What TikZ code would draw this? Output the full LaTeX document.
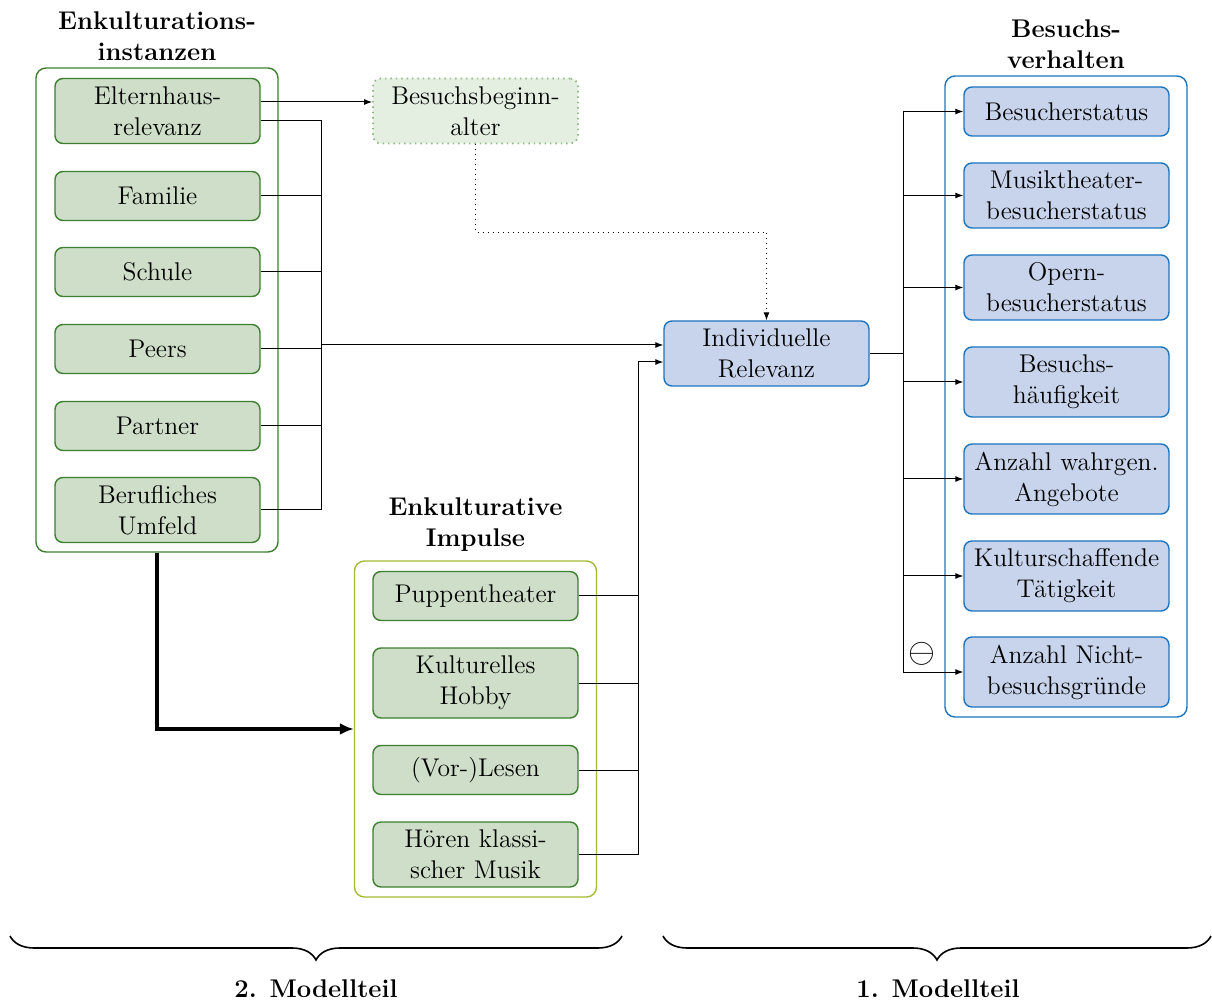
\documentclass[tikz,border=0pt]{standalone}
\usetikzlibrary{decorations.pathreplacing,arrows.meta,calc}
\definecolor{gborder}{HTML}{3C7F2E}
\definecolor{gfill}{HTML}{CEDEC8}
\definecolor{gfilllight}{HTML}{E4EEE1}
\definecolor{gdot}{HTML}{8DB87F}
\definecolor{bborder}{HTML}{1C74BF}
\definecolor{bfill}{HTML}{C8D4EC}
\definecolor{ygborder}{HTML}{A3BB35}
\begin{document}
\begin{tikzpicture}[x=0.5pt,y=-0.5pt,
  font=\fontsize{12.8}{15.5}\selectfont,
  basebox/.style={rounded corners=4pt, line width=0.7pt, minimum width=102.5pt, text width=100pt, align=center, inner sep=1pt,
    execute at begin node={\setlength{\baselineskip}{15.5pt}}},
  gbox/.style={basebox, draw=gborder, fill=gfill},
  bbox/.style={basebox, draw=bborder, fill=bfill},
  onel/.style={minimum height=24.5pt},
  twol/.style={minimum height=32.5pt},
  twolt/.style={minimum height=35pt},
  outer/.style={rounded corners=5pt, line width=0.7pt, minimum width=121pt, inner sep=0pt},
  title/.style={font=\fontsize{12.8}{15.5}\selectfont\bfseries, align=center,
    execute at begin node={\setlength{\baselineskip}{15.5pt}}},
  conn/.style={line width=0.5pt},
  arr/.style={line width=0.5pt, -{Latex[length=4pt,width=3pt]}},
]
\useasboundingbox (0,0) rectangle (1212,1000);

% outer boxes
\node[outer, draw=gborder, minimum height=242pt] (enk) at (157,310) {};
\node[outer, draw=ygborder, minimum height=168pt] (imp) at (475.5,729) {};
\node[outer, draw=bborder, minimum height=320.5pt] (bv) at (1066,396.5) {};

% titles
\node[title] (tenk) at (157,36) {Enkulturations-\\instanzen};
\node[title] (timp) at (475.5,525) {Enkulturative\\Impulse};
\node[title] (tbv) at (1066,44) {Besuchs-\\verhalten};

% left boxes
\node[gbox,twol] (elt) at (157.5,111) {Elternhaus-\\relevanz};
\node[gbox,onel] (fam) at (157.5,196) {Familie};
\node[gbox,onel] (sch) at (157.5,272) {Schule};
\node[gbox,onel] (peer) at (157.5,349) {Peers};
\node[gbox,onel] (part) at (157.5,426) {Partner};
\node[gbox,twol] (ber) at (157.5,510) {Berufliches\\Umfeld};

% Besuchsbeginnalter
\node[basebox,twol, draw=gdot, fill=gfilllight, dotted, line width=0.9pt] (bba) at (475.5,111) {Besuchsbeginn-\\alter};

% impulse boxes
\node[gbox,onel] (pup) at (475.5,596) {Puppentheater};
\node[gbox,twolt] (hob) at (475.5,683) {Kulturelles\\Hobby};
\node[gbox,onel] (les) at (475.5,770) {(Vor-)Lesen};
\node[gbox,twol] (hoer) at (475.5,854.5) {Hören klassi-\\scher Musik};

% Individuelle Relevanz
\node[bbox,twol] (ir) at (766.5,353.5) {Individuelle\\Relevanz};

% right boxes
\node[bbox,onel] (bs) at (1066.5,111.5) {Besucherstatus};
\node[bbox,twol] (mt) at (1066.5,195.5) {Musiktheater-\\besucherstatus};
\node[bbox,twol] (op) at (1066.5,287.5) {Opern-\\besucherstatus};
\node[bbox,twolt] (bh) at (1066.5,382) {Besuchs-\\häufigkeit};
\node[bbox,twolt] (aw) at (1066.5,479) {Anzahl wahrgen.\\Angebote};
\node[bbox,twolt] (kt) at (1066.5,576) {Kulturschaffende\\Tätigkeit};
\node[bbox,twolt] (nb) at (1066.5,672) {Anzahl Nicht-\\besuchsgründe};

% left bus
\coordinate (bus) at (321,345);
\draw[arr] ([yshift=4.5pt]elt.east) -- ([yshift=4.5pt]bba.west);
\draw[conn] ([yshift=-5pt]elt.east) -| (bus |- ber.east) -- (ber.east);
\foreach \n in {fam,sch,peer,part} \draw[conn] (\n.east) -- (\n.east -| bus);
\draw[arr] (bus) -- (bus -| ir.west);

% dotted connector
\draw[line width=0.5pt, dotted, -{Latex[length=4pt,width=3pt]}] (bba.south) -- ++(0,88) -| (ir.north);

% impulse bus
\coordinate (ibus) at ([yshift=-4.25pt,xshift=-12.5pt]ir.west);
\foreach \n in {pup,hob,les} \draw[conn] (\n.east) -- (\n.east -| ibus);
\draw[arr] (hoer.east) -| (ibus) -- ([yshift=-4.25pt]ir.west);

% thick arrow
\draw[line width=1.6pt, -{Latex[length=7pt,width=6pt]}] (enk.south) |- (imp.west);

% right bus
\coordinate (rbus) at (903,353.5);
\draw[conn] (ir.east) -- (rbus);
\draw[conn] (rbus |- bs.west) -- (rbus |- nb.west);
\foreach \n in {bs,mt,op,bh,aw,kt,nb} \draw[arr] (rbus |- \n.west) -- (\n.west);
\node[font=\fontsize{17}{20}\selectfont] (minus) at (922,654) {$\ominus$};

% braces
\coordinate (b2l) at (10,936);
\coordinate (b2r) at (622,936);
\coordinate (b1l) at (663,936);
\coordinate (b1r) at (1211,936);
\draw[line width=0.8pt, decorate, decoration={brace, mirror, amplitude=12pt}] (b2l) -- (b2r);
\draw[line width=0.8pt, decorate, decoration={brace, mirror, amplitude=12pt}] (b1l) -- (b1r);
\node[title] (m2) at (316,989) {2. Modellteil};
\node[title] (m1) at (938,989) {1. Modellteil};
\end{tikzpicture}
\end{document}
